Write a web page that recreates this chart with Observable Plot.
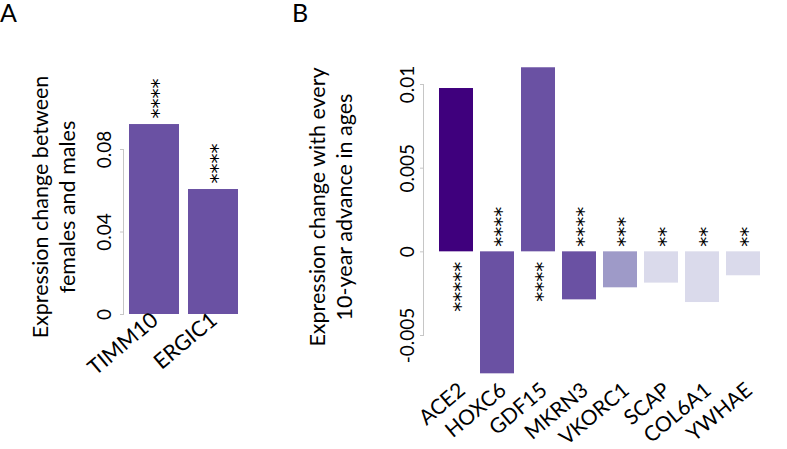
<!DOCTYPE html>
<html><head><meta charset="utf-8">
<script src="https://cdn.jsdelivr.net/npm/d3@7"></script>
<script src="https://cdn.jsdelivr.net/npm/@observablehq/plot@0.6"></script>
<style>
body{margin:0;background:#fff;}
#wrap{position:relative;width:787px;height:449px;font-family:Lato,sans-serif;overflow:hidden;}
.panel{position:absolute;top:0;}
.letter{position:absolute;font-size:25px;line-height:25px;top:0px;font-family:Lato,sans-serif;color:#000;}
</style></head><body>
<div id="wrap"></div>
<script>
// Panel A data
const genesA = ["TIMM10", "ERGIC1"];
const valuesA = [0.0921, 0.0606];
const starsA = [4, 4];
const ticksA = [0, 0.04, 0.08];
const tickLabelsA = ["0", "0.04", "0.08"];
const yLabelA = "Expression change between\nfemales and males";

// Panel B data
const genesB = ["ACE2", "HOXC6", "GDF15", "MKRN3", "VKORC1", "SCAP", "COL6A1", "YWHAE"];
const valuesB = [0.00976, -0.00729, 0.0110, -0.00287, -0.00215, -0.00187, -0.00303, -0.00143];
const starsB = [5, 4, 4, 4, 3, 2, 2, 2];
const ticksB = [-0.005, 0, 0.005, 0.01];
const tickLabelsB = ["-0.005", "0", "0.005", "0.01"];
const yLabelB = "Expression change with every\n10-year advance in ages";

// colour encodes significance level (number of stars)
const starLevels = [2, 3, 4, 5];
const starColors = ["#dadaeb", "#9e9ac8", "#6a51a3", "#3f007d"];

const dataA = genesA.map((g, i) => ({gene: g, value: valuesA[i], stars: starsA[i]}));
const dataB = genesB.map((g, i) => ({gene: g, value: valuesB[i], stars: starsB[i]}));
const starText = d => "*".repeat(d.stars);

const axisColor = "#c6c6c6";
const baseStyle = {fontFamily: "Lato, sans-serif", color: "#000", background: "transparent", overflow: "visible"};
const starFont = "DejaVu Sans";
const labelRotate = -40;

const plotA = Plot.plot({
  width: 260, height: 449,
  marginLeft: 123, marginRight: 18, marginTop: 149, marginBottom: 135,
  x: {domain: genesA, range: [125, 242], paddingInner: 0.15, paddingOuter: 0.05, axis: null},
  y: {domain: [0, 0.08]},
  color: {type: "ordinal", domain: starLevels, range: starColors},
  style: baseStyle,
  marks: [
    Plot.barY(dataA, {x: "gene", y: "value", fill: "stars"}),
    Plot.frame({anchor: "left", stroke: axisColor}),
    Plot.axisY({ticks: ticksA, tickSize: 3, tickFormat: () => "", stroke: axisColor, label: null}),
    Plot.text(ticksA, {y: d => d, text: (d, i) => tickLabelsA[i], frameAnchor: "left", dx: -19, rotate: -90, textAnchor: "middle", lineAnchor: "middle", fontSize: 19}),
    Plot.text([yLabelA], {text: d => d, frameAnchor: "left", dx: -71, dy: -25, rotate: -90, textAnchor: "middle", lineAnchor: "middle", fontSize: 21.5, lineHeight: 1.25}),
    Plot.text(genesA, {x: d => d, text: d => d, frameAnchor: "bottom", rotate: labelRotate, textAnchor: "end", lineAnchor: "bottom", dx: 5, dy: 8, fontSize: 21.5}),
    Plot.text(dataA, {x: "gene", y: "value", text: starText, rotate: -90, textAnchor: "start", lineAnchor: "middle", fontSize: 20, dx: 4, dy: -6, fontFamily: starFont})
  ]
});

const plotB = Plot.plot({
  width: 527, height: 449,
  marginLeft: 163, marginRight: 10, marginTop: 84, marginBottom: 114,
  x: {domain: genesB, range: [172.5, 507.2], paddingInner: 0.173, paddingOuter: 0.1, axis: null},
  y: {domain: [-0.005, 0.01]},
  color: {type: "ordinal", domain: starLevels, range: starColors},
  style: baseStyle,
  marks: [
    Plot.barY(dataB, {x: "gene", y: "value", fill: "stars"}),
    Plot.frame({anchor: "left", stroke: axisColor}),
    Plot.axisY({ticks: ticksB, tickSize: 3, tickFormat: () => "", stroke: axisColor, label: null}),
    Plot.text(ticksB, {y: d => d, text: (d, i) => tickLabelsB[i], frameAnchor: "left", dx: -16, rotate: -90, textAnchor: "middle", lineAnchor: "middle", fontSize: 19}),
    Plot.text([yLabelB], {text: d => d, frameAnchor: "left", dx: -94, dy: -3, rotate: -90, textAnchor: "middle", lineAnchor: "middle", fontSize: 21.5, lineHeight: 1.25}),
    Plot.text(genesB, {x: d => d, text: d => d, frameAnchor: "bottom", rotate: labelRotate, textAnchor: "end", lineAnchor: "bottom", dx: 10, dy: 57, fontSize: 21}),
    Plot.text(dataB.filter(d => d.value < 0), {x: "gene", y: () => 0, text: starText, rotate: -90, textAnchor: "start", lineAnchor: "middle", fontSize: 20, dx: 4, dy: -5, fontFamily: starFont}),
    Plot.text(dataB.filter(d => d.value > 0), {x: "gene", y: () => 0, text: starText, rotate: -90, textAnchor: "end", lineAnchor: "middle", fontSize: 20, dx: 4, dy: 10, fontFamily: starFont})
  ]
});

const wrap = document.getElementById("wrap");
plotA.classList.add("panel"); plotA.style.left = "0px";
plotB.classList.add("panel"); plotB.style.left = "260px";
wrap.appendChild(plotA);
wrap.appendChild(plotB);
const la = document.createElement("div"); la.className = "letter"; la.style.left = "0px"; la.textContent = "A";
const lb = document.createElement("div"); lb.className = "letter"; lb.style.left = "292px"; lb.textContent = "B";
wrap.appendChild(la); wrap.appendChild(lb);
</script>
</body></html>
